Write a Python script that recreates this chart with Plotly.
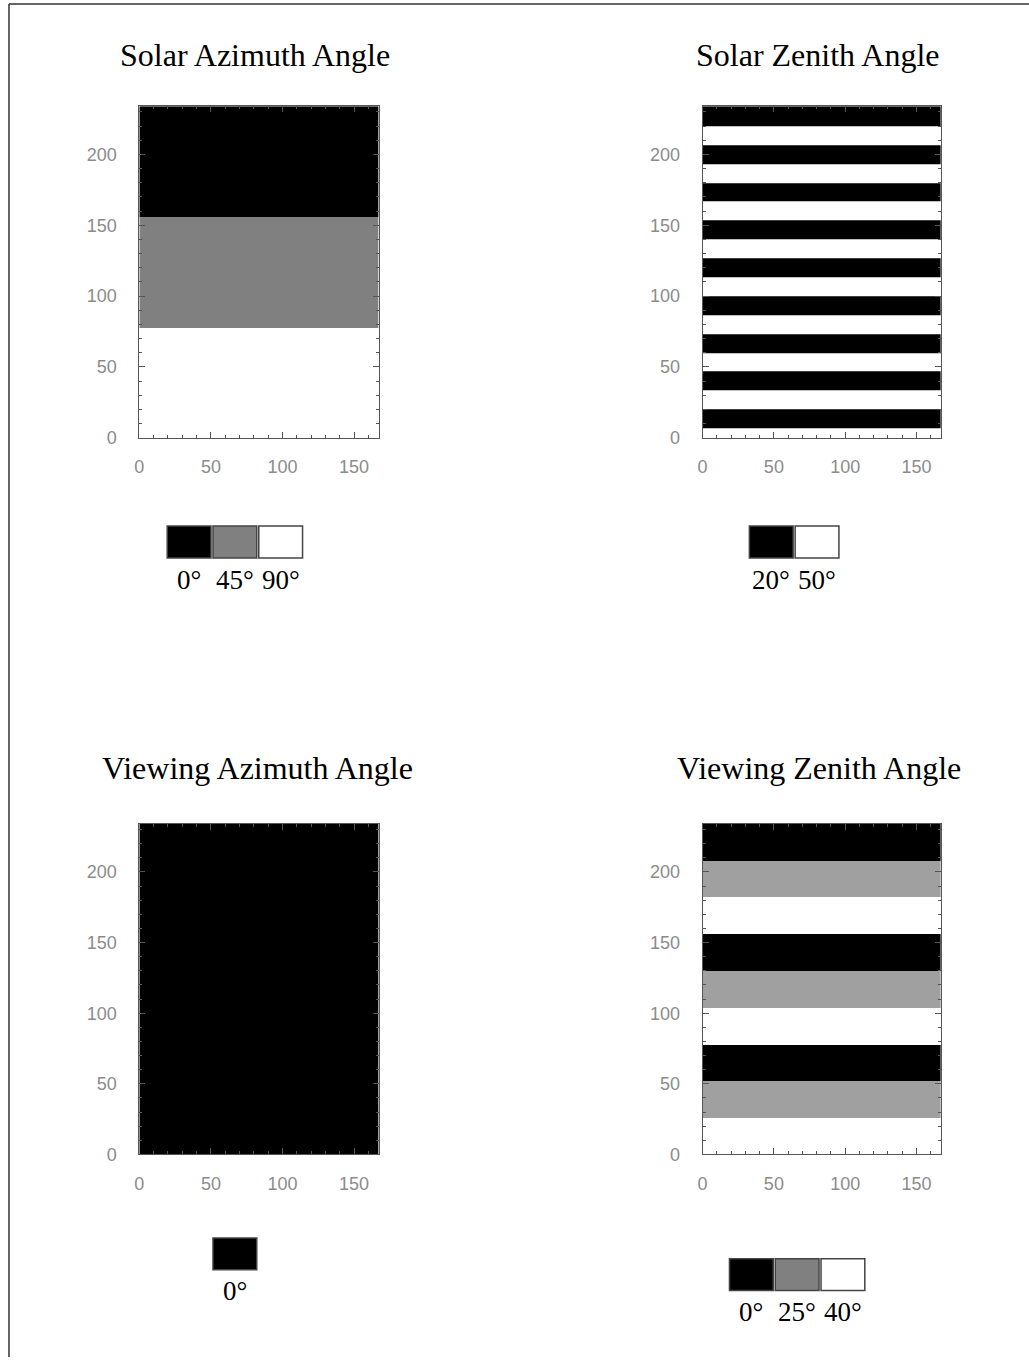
import plotly.graph_objects as go

W, H = 1029, 1367

# Grid extent (columns, rows)
X_EXTENT = 167
Y_EXTENT = 234

# Panel titles
titles = ["Solar Azimuth Angle", "Solar Zenith Angle",
          "Viewing Azimuth Angle", "Viewing Zenith Angle"]

# Band edges along the row axis (bottom to top) and the angle in each band
saa_edges = [0, 78, 156, 234]
saa_angles = [90, 45, 0]

sza_edges = [0, 6.7, 20, 33.3, 46.7, 60, 73.3, 86.7, 100, 113.3, 126.7,
             140, 153.3, 166.7, 180, 193.3, 206.7, 220, 234]
sza_angles = [50, 20, 50, 20, 50, 20, 50, 20, 50, 20, 50, 20, 50, 20, 50, 20, 50, 20]

vaa_edges = [0, 234]
vaa_angles = [0]

vza_edges = [0, 26, 52, 78, 104, 130, 156, 182, 208, 234]
vza_angles = [40, 25, 0, 40, 25, 0, 40, 25, 0]

# Legend classes per panel
saa_classes = [0, 45, 90]
sza_classes = [20, 50]
vaa_classes = [0]
vza_classes = [0, 25, 40]

# Grey levels used for each class in the image and in the legend
saa_image_colors = ["#000000", "#808080", "#ffffff"]
sza_image_colors = ["#000000", "#ffffff"]
vaa_image_colors = ["#000000"]
vza_image_colors = ["#000000", "#a0a0a0", "#ffffff"]

saa_key_colors = ["#000000", "#808080", "#ffffff"]
sza_key_colors = ["#000000", "#ffffff"]
vaa_key_colors = ["#000000"]
vza_key_colors = ["#000000", "#808080", "#ffffff"]

x_tick_vals = [0, 50, 100, 150]
y_tick_vals = [0, 50, 100, 150, 200]

panels = [
    dict(edges=saa_edges, angles=saa_angles, classes=saa_classes,
         img=saa_image_colors, key=saa_key_colors,
         box=(135, 376, 107, 441), title_xy=(251, 55),
         key_x=163, key_y=530),
    dict(edges=sza_edges, angles=sza_angles, classes=sza_classes,
         img=sza_image_colors, key=sza_key_colors,
         box=(701, 941, 107, 441), title_xy=(817, 55),
         key_x=748, key_y=530),
    dict(edges=vaa_edges, angles=vaa_angles, classes=vaa_classes,
         img=vaa_image_colors, key=vaa_key_colors,
         box=(135, 376, 830, 1163), title_xy=(254, 774),
         key_x=209, key_y=1247),
    dict(edges=vza_edges, angles=vza_angles, classes=vza_classes,
         img=vza_image_colors, key=vza_key_colors,
         box=(701, 941, 830, 1163), title_xy=(818, 774),
         key_x=728, key_y=1268),
]


def px_x(v):
    return v / W


def px_y(v):
    return 1 - v / H


def discrete_scale(colors):
    n = len(colors)
    if n == 1:
        return [[0, colors[0]], [1, colors[0]]]
    scale = []
    for i, c in enumerate(colors):
        scale.append([i / n, c])
        scale.append([(i + 1) / n, c])
    return scale


fig = go.Figure()
layout = {}
annotations = []
shapes = []

AXIS_COLOR = "#555555"
TICK_FONT = dict(family="Liberation Sans, Arial, sans-serif", size=18, color="#8c8c8c")
SERIF = "Liberation Serif, Times New Roman, serif"

BOX_W, BOX_H, BOX_STEP = 44, 32, 46

for i, p in enumerate(panels, start=1):
    xa = "x" if i == 1 else f"x{i}"
    ya = "y" if i == 1 else f"y{i}"
    idx = [[p["classes"].index(a)] for a in p["angles"]]
    n = len(p["classes"])
    fig.add_trace(go.Heatmap(
        x=[0, X_EXTENT], y=p["edges"], z=idx,
        zmin=-0.5, zmax=n - 0.5,
        colorscale=discrete_scale(p["img"]), showscale=False,
        xaxis=xa, yaxis=ya, hoverinfo="skip",
    ))
    x0, x1, y0, y1 = p["box"]
    common = dict(
        showline=True, linecolor=AXIS_COLOR, linewidth=1, mirror="ticks",
        ticks="inside", tickcolor=AXIS_COLOR, tickwidth=1, ticklen=6,
        showgrid=False, zeroline=False, tickfont=TICK_FONT,
        minor=dict(ticks="inside", dtick=10, ticklen=3,
                   tickcolor=AXIS_COLOR, showgrid=False),
        layer="above traces", fixedrange=True,
    )
    layout["xaxis" if i == 1 else f"xaxis{i}"] = dict(
        common, domain=[px_x(x0), px_x(x1)], range=[0, X_EXTENT + 0.5],
        tickvals=x_tick_vals, anchor=ya, ticklabelstandoff=13,
    )
    layout["yaxis" if i == 1 else f"yaxis{i}"] = dict(
        common, domain=[px_y(y1), px_y(y0)], range=[0, Y_EXTENT],
        tickvals=y_tick_vals, anchor=xa, ticklabelstandoff=18,
    )

    tx, ty = p["title_xy"]
    annotations.append(dict(
        text=titles[i - 1], x=px_x(tx), y=px_y(ty), xref="paper", yref="paper",
        showarrow=False, xanchor="center", yanchor="middle",
        font=dict(family=SERIF, size=32, color="#000000"),
    ))

    # Colour key boxes with their angle labels
    for k, (cls, col) in enumerate(zip(p["classes"], p["key"])):
        bx = p["key_x"] + k * BOX_STEP
        by = p["key_y"]
        shapes.append(dict(
            type="rect", xref="paper", yref="paper",
            x0=px_x(bx), x1=px_x(bx + BOX_W), y0=px_y(by + BOX_H), y1=px_y(by),
            fillcolor=col, line=dict(color="#444444", width=1.5),
        ))
        annotations.append(dict(
            text=f"{cls}°", x=px_x(bx + BOX_W / 2), y=px_y(by + BOX_H + 22),
            xref="paper", yref="paper", showarrow=False,
            xanchor="center", yanchor="middle",
            font=dict(family=SERIF, size=27, color="#000000"),
        ))

# Page frame (left and top edges)
shapes.append(dict(type="line", xref="paper", yref="paper",
                   x0=px_x(4), x1=px_x(4), y0=0, y1=px_y(4),
                   line=dict(color="#333333", width=1.5)))
shapes.append(dict(type="line", xref="paper", yref="paper",
                   x0=px_x(4), x1=1, y0=px_y(4), y1=px_y(4),
                   line=dict(color="#333333", width=1.5)))

fig.update_layout(
    width=W, height=H, margin=dict(l=0, r=0, t=0, b=0),
    paper_bgcolor="white", plot_bgcolor="white",
    showlegend=False, annotations=annotations, shapes=shapes,
    **layout,
)

fig.write_html("out.html", config={"displayModeBar": False})
